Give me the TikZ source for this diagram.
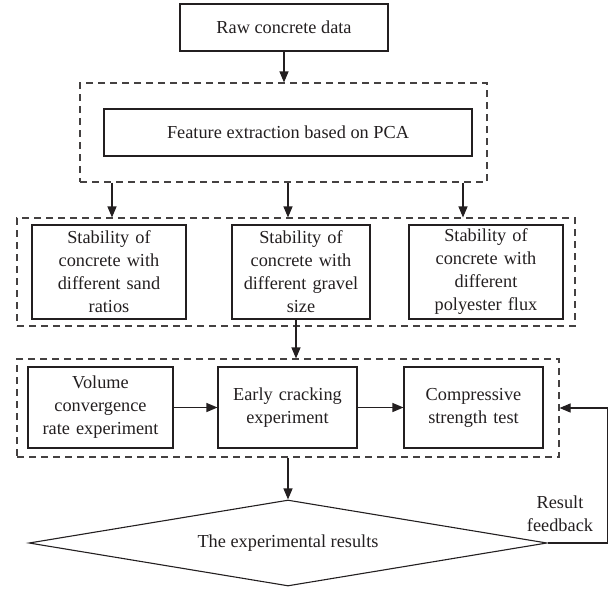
\documentclass[tikz,border=0pt]{standalone}
\usepackage{fontspec}
\setmainfont{Liberation Serif}
\usetikzlibrary{arrows.meta,shapes.geometric}
\definecolor{ink}{HTML}{231F20}
\begin{document}
\begin{tikzpicture}[x=1pt,y=-1pt,
  every node/.style={font=\fontsize{18.3}{23}\selectfont, text=ink},
  solidbox/.style={draw=ink, line width=1.1pt, rectangle, inner sep=0pt, align=center},
  dashbox/.style={draw=ink!85, line width=1.1pt, dash pattern=on 7pt off 5pt, rectangle, inner sep=0pt},
  arr/.style={draw=ink, line width=1.1pt, -{Triangle[length=11pt,width=9pt]}},
  conn/.style={draw=ink, line width=1.1pt}
]
\useasboundingbox (0,0) rectangle (611,590);

% top
\node[solidbox, minimum width=208pt, minimum height=47pt] (raw) at (284,27.5) {Raw concrete data};
\node[dashbox, minimum width=407pt, minimum height=99pt] (d1) at (283.5,132.5) {};
\node[solidbox, minimum width=368pt, minimum height=47pt] (fe) at (288,132.5) {Feature extraction based on PCA};

% second group
\node[dashbox, minimum width=558pt, minimum height=108pt] (d2) at (296,272) {};
\node[solidbox, minimum width=154pt, minimum height=94pt, text width=150pt] (s1) at (109,272) {Stability of\\concrete with\\different sand\\ratios};
\node[solidbox, minimum width=138pt, minimum height=94pt, text width=134pt] (s2) at (301,272) {Stability of\\concrete with\\different gravel\\size};
\node[solidbox, minimum width=154pt, minimum height=94pt, text width=150pt] (s3) at (486,272) {Stability of\\concrete with\\different\\polyester flux};

% third group
\node[dashbox, minimum width=542pt, minimum height=98pt] (d3) at (288,408) {};
\node[solidbox, minimum width=145pt, minimum height=81pt, text width=141pt] (v) at (100.5,407.5) {Volume\\convergence\\rate experiment};
\node[solidbox, minimum width=139pt, minimum height=81pt, text width=135pt] (e) at (287.5,407.5) {Early cracking\\experiment};
\node[solidbox, minimum width=139pt, minimum height=81pt, text width=135pt] (c) at (473.5,407.5) {Compressive\\strength test};

% diamond
\node[draw=ink, line width=1.1pt, diamond, aspect=6.02, inner sep=0pt, minimum width=518pt, minimum height=86pt] (dia) at (288,543) {The experimental results};

\node[align=center] (fb) at (560,514) {Result\\feedback};

% helper x positions
\coordinate (x1) at (112,200);
\coordinate (x2) at (288,200);
\coordinate (x3) at (463,200);

% connectors
\draw[arr] (raw.south) -- (raw.south |- d1.north);
\draw[arr] (x1 |- d1.south) -- (x1 |- d2.north);
\draw[arr] (x2 |- d1.south) -- (x2 |- d2.north);
\draw[arr] (x3 |- d1.south) -- (x3 |- d2.north);
\draw[arr] (d2.center |- s2.south) -- (d2.center |- d3.north);
\draw[arr] (v.east) -- (e.west);
\draw[arr] (e.east) -- (c.west);
\draw[arr] (d3.south) -- (dia.north);
\draw[arr] (dia.east) -- ++(60,0) |- (d3.east);
\end{tikzpicture}
\end{document}
